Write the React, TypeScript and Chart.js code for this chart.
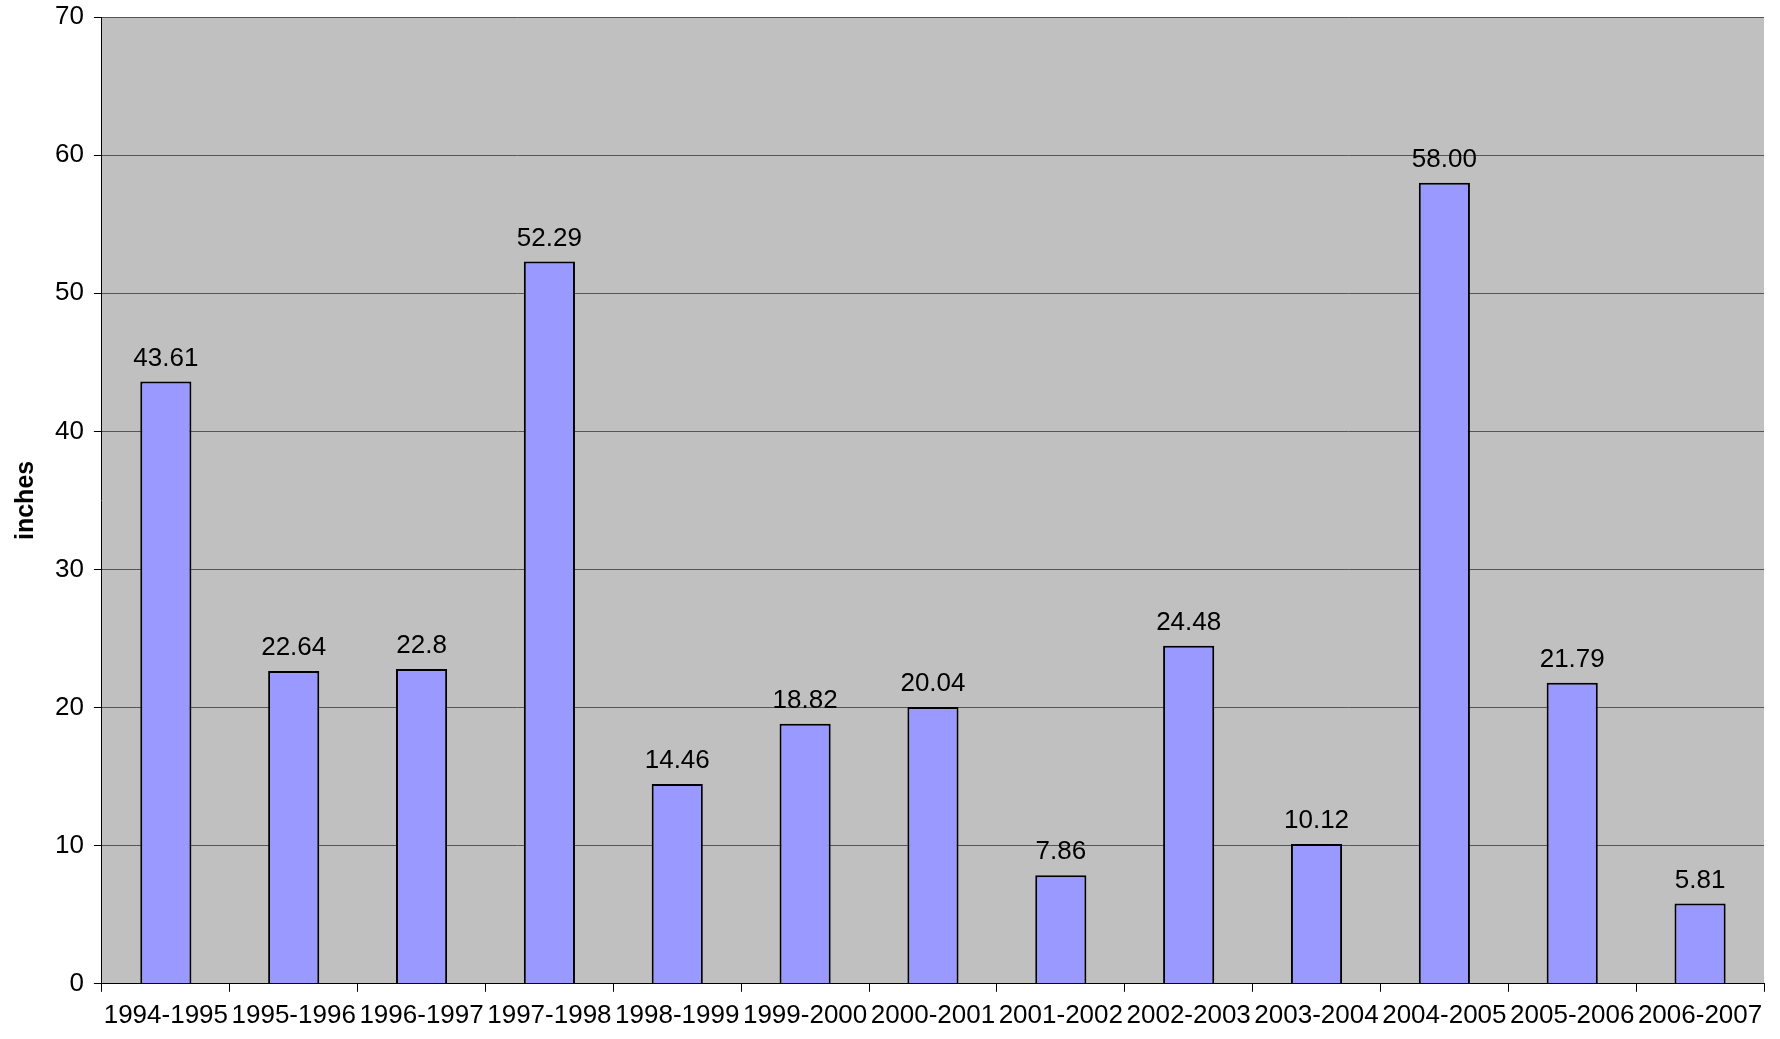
import React, { useEffect, useRef } from "react";
import { Chart, registerables } from "chart.js";
Chart.register(...registerables);

const categories = ["1994-1995","1995-1996","1996-1997","1997-1998","1998-1999","1999-2000","2000-2001","2001-2002","2002-2003","2003-2004","2004-2005","2005-2006","2006-2007"];
const values = [43.61,22.64,22.8,52.29,14.46,18.82,20.04,7.86,24.48,10.12,58.0,21.79,5.81];
const valueLabels = ["43.61","22.64","22.8","52.29","14.46","18.82","20.04","7.86","24.48","10.12","58.00","21.79","5.81"];

const FONT = "'Liberation Sans', Arial";

const labelPlugin = {
  id: "vlabels",
  afterDatasetsDraw(chart: any) {
    const ctx = chart.ctx;
    const meta = chart.getDatasetMeta(0);
    ctx.save();
    ctx.font = `26px ${FONT}`;
    ctx.fillStyle = "#000";
    ctx.textAlign = "center";
    ctx.textBaseline = "bottom";
    meta.data.forEach((b: any, i: number) => ctx.fillText(valueLabels[i], b.x, b.y - 10));
    ctx.restore();
  },
};
const bgPlugin = {
  id: "bg",
  beforeDraw(chart: any) {
    const { ctx, chartArea: a } = chart;
    ctx.save();
    ctx.fillStyle = "#c0c0c0";
    ctx.fillRect(a.left, a.top, a.right - a.left, a.bottom - a.top);
    ctx.restore();
  },
};

export default function App() {
  const ref = useRef<HTMLCanvasElement>(null);
  useEffect(() => {
    document.body.style.margin = "0";
    const c = new Chart(ref.current!, {
      type: "bar",
      data: { labels: categories, datasets: [{ data: values, backgroundColor: "#9999ff", borderColor: "#000", borderWidth: 2, categoryPercentage: 0.4, barPercentage: 1 }] },
      options: {
        animation: false, responsive: false, devicePixelRatio: 1,
        layout: { padding: { top: 17, right: 16, bottom: 0, left: 7 } },
        plugins: { legend: { display: false }, tooltip: { enabled: false } },
        scales: {
          x: {
            grid: { display: true, drawOnChartArea: false, offset: true, color: "#000", tickLength: 8 },
            border: { color: "#000", width: 1 },
            ticks: { color: "#000", font: { size: 26, family: FONT }, maxRotation: 0, autoSkip: false, padding: 8 },
          },
          y: {
            min: 0, max: 70,
            afterFit: (s: any) => { s.paddingTop = 0; },
            ticks: { stepSize: 10, color: "#000", font: { size: 26, family: FONT }, padding: 10 },
            grid: { color: "#555", tickLength: 8, tickColor: "#000" },
            border: { color: "#000" },
            title: { display: true, text: "inches", color: "#000", padding: 4, font: { size: 25, weight: "bold", family: FONT } },
          },
        },
      },
      plugins: [bgPlugin, labelPlugin],
    });
    return () => c.destroy();
  }, []);
  return <canvas ref={ref} width={1780} height={1039} />;
}
